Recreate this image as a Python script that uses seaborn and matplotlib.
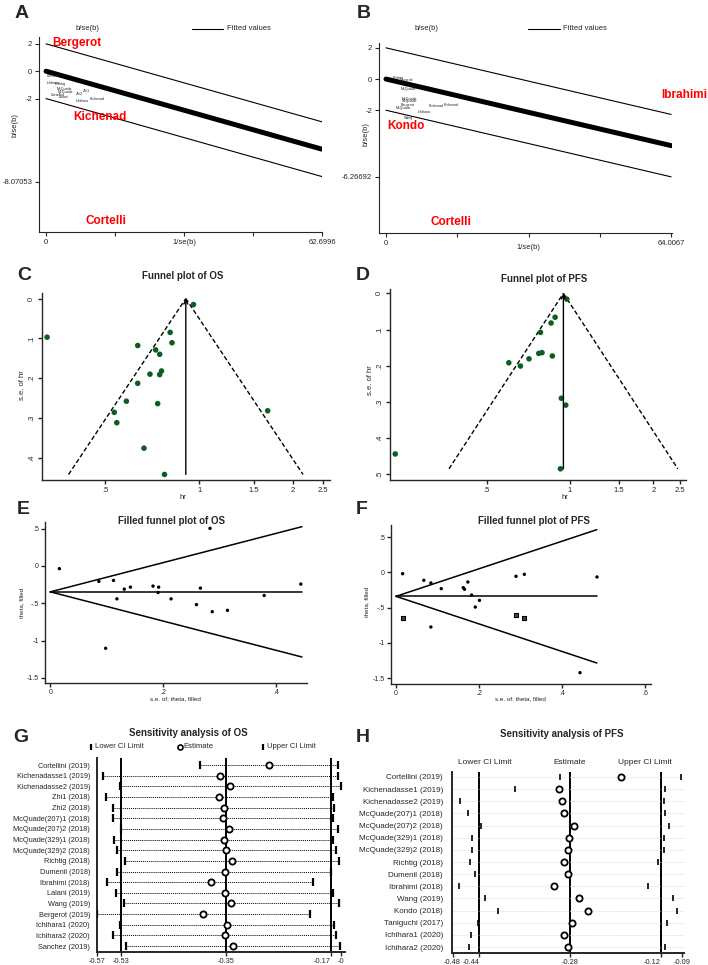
import numpy as np
import pandas as pd
import seaborn as sns
import matplotlib.pyplot as plt
from matplotlib.lines import Line2D
from matplotlib.ticker import NullLocator

W, H = 708, 965

# ---------------- A: Galbraith plot of OS ----------------
gal_os_xmax = 62.6996
gal_os_ylow = -8.07053
gal_os_slope = -0.0909
gal_os_names = ["Dumenil", "Ichihara", "Richtig", "McQuade", "McQuade", "Cortellini",
                "Lalani", "Zhi2", "Zhi1", "Ichihara", "Kichenad"]
gal_os_x = [0.2, 0.2, 2.0, 2.5, 2.7, 1.2, 2.9, 6.8, 8.4, 6.8, 10.0]
gal_os_y = [-0.36, -0.88, -0.95, -1.31, -1.55, -1.72, -1.88, -1.70, -1.45, -2.15, -2.05]
gal_os_red = ["Bergerot", "Kichenad", "Cortelli"]
gal_os_red_x = [1.4, 6.1, 8.9]
gal_os_red_y = [2.04, -3.36, -10.95]

# ---------------- B: Galbraith plot of PFS ----------------
gal_pfs_xmax = 64.0067
gal_pfs_ylow = -6.26692
gal_pfs_slope = -0.0667
gal_pfs_names = ["Richtig", "Dumenil", "McQuade", "McQuade", "McQuade", "Bergerot",
                 "McQuade", "Ichihara", "Kichenad", "Kichenad", "Wang"]
gal_pfs_x = [1.5, 3.0, 3.4, 3.6, 3.6, 3.4, 2.2, 7.0, 9.6, 13.0, 4.0]
gal_pfs_y = [0.07, -0.04, -0.66, -1.27, -1.43, -1.69, -1.87, -2.09, -1.74, -1.69, -2.5]
gal_pfs_red = ["Ibrahimi", "Kondo", "Cortelli"]
gal_pfs_red_x = [61.7, 0.2, 10.1]
gal_pfs_red_y = [-1.03, -3.0, -9.17]

# ---------------- C: funnel plot of OS ----------------
hr_os = [0.325, 0.959, 0.807, 0.818, 0.635, 0.725, 0.747, 0.757, 0.695,
         0.747, 0.635, 0.584, 0.736, 0.534, 0.544, 1.659, 0.665, 0.774]
se_os = [0.097, 0.015, 0.085, 0.111, 0.118, 0.129, 0.140, 0.182, 0.190,
         0.191, 0.213, 0.258, 0.264, 0.286, 0.312, 0.282, 0.376, 0.442]
hr_os_pooled = 0.906
se_os_max = 0.442

# ---------------- D: funnel plot of PFS ----------------
hr_pfs = [0.234, 0.973, 0.883, 0.854, 0.782, 0.771, 0.792, 0.863, 0.711,
          0.601, 0.662, 0.930, 0.965, 0.923]
se_pfs = [0.444, 0.016, 0.066, 0.082, 0.108, 0.166, 0.164, 0.173, 0.181,
          0.192, 0.201, 0.290, 0.309, 0.485]
hr_pfs_pooled = 0.946
se_pfs_max = 0.485

# ---------------- E: filled funnel plot of OS ----------------
fse_os = [0.016, 0.086, 0.112, 0.118, 0.131, 0.142, 0.182, 0.192, 0.191,
          0.214, 0.259, 0.266, 0.283, 0.287, 0.314, 0.379, 0.444, 0.098]
fth_os = [-0.036, -0.207, -0.194, -0.441, -0.311, -0.284, -0.270, -0.284, -0.356,
          -0.441, -0.518, -0.297, 0.505, -0.613, -0.595, -0.396, -0.243, -1.104]
fth_os_pooled = -0.347
fse_os_max = 0.446

# ---------------- F: filled funnel plot of PFS ----------------
fse_pfs = [0.016, 0.067, 0.084, 0.109, 0.162, 0.165, 0.173, 0.182, 0.201,
           0.191, 0.289, 0.309, 0.484, 0.084, 0.443]
fth_pfs = [-0.017, -0.111, -0.149, -0.230, -0.216, -0.239, -0.135, -0.320, -0.396,
           -0.491, -0.054, -0.026, -0.064, -0.775, -1.424]
fse_pfs_imp = [0.016, 0.289, 0.309]
fth_pfs_imp = [-0.652, -0.609, -0.642]
fth_pfs_pooled = -0.339
fse_pfs_max = 0.4835

# ---------------- G: sensitivity analysis of OS ----------------
sens_os_study = ["Cortellini (2019)", "Kichenadasse1 (2019)", "Kichenadasse2 (2019)",
                 "Zhi1 (2018)", "Zhi2 (2018)", "McQuade(207)1 (2018)", "McQuade(207)2 (2018)",
                 "McQuade(329)1 (2018)", "McQuade(329)2 (2018)", "Richtig (2018)",
                 "Dumenil (2018)", "Ibrahimi (2018)", "Lalani (2019)", "Wang (2019)",
                 "Bergerot (2019)", "Ichihara1 (2020)", "Ichihara2 (2020)", "Sanchez (2019)"]
sens_os_lo = [-0.394, -0.560, -0.532, -0.555, -0.544, -0.543, -0.530, -0.542, -0.536,
              -0.523, -0.536, -0.553, -0.538, -0.525, -0.571, -0.531, -0.543, -0.521]
sens_os_est = [-0.276, -0.360, -0.343, -0.361, -0.353, -0.354, -0.344, -0.353, -0.349,
               -0.339, -0.352, -0.376, -0.352, -0.341, -0.389, -0.348, -0.351, -0.337]
sens_os_hi = [-0.157, -0.157, -0.153, -0.166, -0.164, -0.167, -0.157, -0.166, -0.162,
              -0.156, -0.170, -0.200, -0.166, -0.156, -0.206, -0.164, -0.161, -0.154]
sens_os_ticks = [-0.57, -0.53, -0.35, -0.17, -0.1534]
sens_os_ticklabels = ["-0.57", "-0.53", "-0.35", "-0.17", "-0"]
sens_os_ref = [-0.53, -0.35, -0.17]

# ---------------- H: sensitivity analysis of PFS ----------------
sens_pfs_study = ["Cortellini (2019)", "Kichenadasse1 (2019)", "Kichenadasse2 (2019)",
                  "McQuade(207)1 (2018)", "McQuade(207)2 (2018)", "McQuade(329)1 (2018)",
                  "McQuade(329)2 (2018)", "Richtig (2018)", "Dumenil (2018)", "Ibrahimi (2018)",
                  "Wang (2019)", "Kondo (2018)", "Taniguchi (2017)", "Ichihara1 (2020)",
                  "Ichihara2 (2020)"]
sens_pfs_lo = [-0.297, -0.377, -0.474, -0.459, -0.437, -0.452, -0.453, -0.456, -0.448,
               -0.475, -0.429, -0.407, -0.442, -0.455, -0.458]
sens_pfs_est = [-0.190, -0.300, -0.294, -0.291, -0.272, -0.282, -0.284, -0.291, -0.284,
                -0.309, -0.264, -0.249, -0.276, -0.290, -0.284]
sens_pfs_hi = [-0.084, -0.112, -0.115, -0.112, -0.105, -0.114, -0.115, -0.125, -0.120,
               -0.143, -0.098, -0.092, -0.109, -0.120, -0.112]
sens_pfs_ticks = [-0.487, -0.44, -0.28, -0.12, -0.082]
sens_pfs_ticklabels = ["-0.48", "-0.44", "-0.28", "-0.12", "-0.09"]
sens_pfs_ref = [-0.44, -0.28, -0.12]

GREEN = "#0d5c20"

sns.set_style("ticks")
plt.rcParams['font.family'] = ['Liberation Sans', 'DejaVu Sans']


def px_axes(fig, l, t, r, b):
    return fig.add_axes([l / W, 1 - b / H, (r - l) / W, (b - t) / H])


def ftext(fig, x, y, s, **kw):
    kw.setdefault("ha", "center")
    kw.setdefault("va", "center")
    fig.text(x / W, 1 - y / H, s, **kw)


def basic_spines(ax, lw=0.8):
    sns.despine(ax=ax)
    for side in ("left", "bottom"):
        ax.spines[side].set_linewidth(lw)
    ax.tick_params(length=3, width=lw, labelsize=5.5, pad=2)


def galbraith(fig, ax, xmax, ylow, slope, names, nx, ny, red, rx, ry, xlim, ylim, mid_label):
    gx = np.array([0, xmax])
    for off, lw in ((2, 0.8), (0, 3.6), (-2, 0.8)):
        sns.lineplot(x=gx, y=slope * gx + off, color="black", lw=lw, ax=ax, legend=False)
    for n, x, y in zip(names, nx, ny):
        ax.text(x, y, n, fontsize=2.6, color="#222222", ha="left", va="center")
    for n, x, y in zip(red, rx, ry):
        ax.text(x, y, n, fontsize=8.5, color="red", weight="bold", ha="left", va="center",
                clip_on=False)
    ax.set_xlim(*xlim)
    ax.set_ylim(*ylim)
    ax.set_xticks(np.linspace(0, xmax, 5))
    ax.set_xticklabels(["0", "", mid_label, "", f"{xmax:g}"])
    ax.set_yticks([2, 0, -2, ylow])
    ax.set_yticklabels(["2", "0", "-2", f"{ylow:g}"])
    basic_spines(ax)


def funnel(ax, hr, se, pooled, semax, xlim, ylim, yticks):
    sns.scatterplot(x=hr, y=se, color=GREEN, s=16, edgecolor="none", ax=ax, zorder=3)
    lc = np.log(pooled)
    for sgn in (-1, 1):
        sns.lineplot(x=[pooled, np.exp(lc + sgn * 1.96 * semax)], y=[0, semax],
                     color="black", lw=1.0, ax=ax, legend=False,
                     linestyle=(0, (3.2, 1.8)))
    ax.annotate("", xy=(pooled, 0), xytext=(pooled, semax),
                arrowprops=dict(arrowstyle="->", lw=1.0, color="black",
                                shrinkA=0, shrinkB=0, mutation_scale=7))
    ax.set_xscale("log")
    ax.set_xlim(*xlim)
    ax.set_ylim(*ylim)
    ax.set_xticks([0.5, 1, 1.5, 2, 2.5])
    ax.set_xticklabels([".5", "1", "1.5", "2", "2.5"])
    ax.xaxis.set_minor_locator(NullLocator())
    ax.set_yticks(yticks)
    ax.set_yticklabels([("%g" % v).replace("0.", ".") for v in yticks],
                       rotation=90, va="center")
    ax.set_xlabel("")
    ax.set_ylabel("")
    basic_spines(ax, lw=1.0)


def filled(ax, se, th, pooled, semax, xlim, ylim, xticks):
    sns.scatterplot(x=se, y=th, color="black", s=6, edgecolor="none", ax=ax, zorder=3)
    gx = np.array([0, semax])
    for k in (1.96, 0, -1.96):
        sns.lineplot(x=gx, y=pooled + k * gx, color="black", lw=1.1, ax=ax, legend=False)
    ax.set_xlim(*xlim)
    ax.set_ylim(*ylim)
    ax.set_xticks(xticks)
    ax.set_xticklabels([("%g" % v).replace("0.", ".") for v in xticks])
    ax.set_yticks([0.5, 0, -0.5, -1, -1.5])
    ax.set_yticklabels([".5", "0", "-.5", "-1", "-1.5"])
    ax.set_xlabel("")
    ax.set_ylabel("")
    basic_spines(ax, lw=1.0)
    ax.tick_params(labelsize=5, pad=1.5)


def sensitivity(ax, study, lo, est, hi, ticks, ticklabels, ref, ylim, bar_s, bar_lw,
                dotted_full, label_size, pad, right_labels):
    y = np.arange(len(study))
    if dotted_full:
        ax.hlines(y, ticks[0], ticks[-1] + 0.005, colors="#d0d0d0",
                  linestyles=(0, (1, 1.5)), lw=0.6)
    else:
        ax.hlines(y, lo, hi, colors="black", linestyles=(0, (1, 1)), lw=0.7)
    for v in ref:
        ax.axvline(v, color="black", lw=1.4, zorder=1)
    ax.scatter(lo, y, marker="|", s=bar_s, lw=bar_lw, color="black", zorder=3)
    ax.scatter(hi, y, marker="|", s=bar_s, lw=bar_lw, color="black", zorder=3)
    ax.scatter(est, y, s=20, facecolors="white", edgecolors="black", lw=1.3, zorder=4)
    ax.set_ylim(*ylim)
    ax.set_yticks(y)
    ax.set_yticklabels(study)
    ax.set_xticks(ticks)
    labs = ax.set_xticklabels(ticklabels)
    for i in right_labels:
        labs[i].set_ha("right")
    sns.despine(ax=ax)
    for side in ("left", "bottom"):
        ax.spines[side].set_linewidth(1.4)
    ax.tick_params(axis="y", length=0, labelsize=label_size, pad=pad)
    ax.tick_params(axis="x", length=3, width=1.0, labelsize=5.3, pad=1.5)


fig = plt.figure(figsize=(W / 100, H / 100), dpi=100)

# A
axA = px_axes(fig, 39, 37, 322, 232)
galbraith(fig, axA, gal_os_xmax, gal_os_ylow, gal_os_slope, gal_os_names, gal_os_x, gal_os_y,
          gal_os_red, gal_os_red_x, gal_os_red_y, (-1.6, gal_os_xmax), (-11.75, 2.5), "1/se(b)")
ftext(fig, 15, 125, "b/se(b)", fontsize=5.5, rotation=90)
ftext(fig, 87, 29, "b/se(b)", fontsize=5.5)
fig.add_artist(Line2D([192 / W, 223 / W], [1 - 29 / H] * 2, color="black", lw=0.8))
ftext(fig, 227, 29, "Fitted values", fontsize=5.5, ha="left")

# B
axB = px_axes(fig, 379, 43, 672, 233)
galbraith(fig, axB, gal_pfs_xmax, gal_pfs_ylow, gal_pfs_slope, gal_pfs_names, gal_pfs_x,
          gal_pfs_y, gal_pfs_red, gal_pfs_red_x, gal_pfs_red_y, (-1.57, 64.2), (-9.87, 2.31), "")
ftext(fig, 366, 134, "b/se(b)", fontsize=5.5, rotation=90)
ftext(fig, 528, 248, "1/se(b)", fontsize=5.5)
ftext(fig, 426, 29, "b/se(b)", fontsize=5.5)
fig.add_artist(Line2D([528 / W, 560 / W], [1 - 29 / H] * 2, color="black", lw=0.8))
ftext(fig, 563, 29, "Fitted values", fontsize=5.5, ha="left")

# C
axC = px_axes(fig, 42, 293, 330, 480)
funnel(axC, hr_os, se_os, hr_os_pooled, se_os_max, (0.313, 2.63), (0.456, -0.014),
       [0, 0.1, 0.2, 0.3, 0.4])
ftext(fig, 183, 276, "Funnel plot of OS", fontsize=7, weight="bold")
ftext(fig, 22, 385, "s.e. of hr", fontsize=5.5, rotation=90)
ftext(fig, 183, 497, "hr", fontsize=5.5)

# D
axD = px_axes(fig, 390, 289, 686, 480)
funnel(axD, hr_pfs, se_pfs, hr_pfs_pooled, se_pfs_max, (0.224, 2.62), (0.516, -0.012),
       [0, 0.1, 0.2, 0.3, 0.4, 0.5])
ftext(fig, 544, 279, "Funnel plot of PFS", fontsize=7, weight="bold")
ftext(fig, 371, 380, "s.e. of hr", fontsize=5.5, rotation=90)
ftext(fig, 565, 497, "hr", fontsize=5.5)

# E
axE = px_axes(fig, 45, 522, 307, 683)
filled(axE, fse_os, fth_os, fth_os_pooled, fse_os_max, (-0.0095, 0.455), (-1.57, 0.59),
       [0, 0.2, 0.4])
ftext(fig, 172, 521, "Filled funnel plot of OS", fontsize=7, weight="bold")
ftext(fig, 22, 603, "theta, filled", fontsize=4.5, rotation=90)
ftext(fig, 175, 699, "s.e. of: theta, filled", fontsize=4.5)

# F
axF = px_axes(fig, 391, 525, 651, 684)
filled(axF, fse_pfs, fth_pfs, fth_pfs_pooled, fse_pfs_max, (-0.012, 0.614), (-1.585, 0.675),
       [0, 0.2, 0.4, 0.6])
axF.scatter(fse_pfs_imp, fth_pfs_imp, marker="s", s=12, facecolors="#444444",
            edgecolors="black", lw=0.8, zorder=4)
ftext(fig, 534, 521, "Filled funnel plot of PFS", fontsize=7, weight="bold")
ftext(fig, 367, 602, "theta, filled", fontsize=4.5, rotation=90)
ftext(fig, 520, 699, "s.e. of: theta, filled", fontsize=4.5)

# G
axG = px_axes(fig, 97, 758, 345, 952)
sensitivity(axG, sens_os_study, sens_os_lo, sens_os_est, sens_os_hi, sens_os_ticks,
            sens_os_ticklabels, sens_os_ref, (17.56, -0.66), 28, 1.6, False, 5.3, 5, [3])
axG.set_xlim(-0.5707, -0.1458)
ftext(fig, 188, 733, "Sensitivity analysis of OS", fontsize=7, weight="bold")
fig.add_artist(Line2D([91 / W], [1 - 747 / H], marker="|", ms=4.5, mew=1.6, color="black"))
ftext(fig, 95, 747, "Lower CI Limit", fontsize=5.5, ha="left")
fig.add_artist(Line2D([180 / W], [1 - 747 / H], marker="o", ms=3.6, mew=1.2,
                      mfc="white", mec="black"))
ftext(fig, 183, 747, "Estimate", fontsize=5.5, ha="left")
fig.add_artist(Line2D([263 / W], [1 - 747 / H], marker="|", ms=4.5, mew=1.6, color="black"))
ftext(fig, 267, 747, "Upper CI Limit", fontsize=5.5, ha="left")

# H
axH = px_axes(fig, 452, 772, 684, 953)
sensitivity(axH, sens_pfs_study, sens_pfs_lo, sens_pfs_est, sens_pfs_hi, sens_pfs_ticks,
            sens_pfs_ticklabels, sens_pfs_ref, (14.49, -0.41), 20, 1.2, True, 5.8, 6.5, [1, 3])
axH.set_xlim(-0.488, -0.0789)
ftext(fig, 562, 734, "Sensitivity analysis of PFS", fontsize=7, weight="bold")
ftext(fig, 485, 762, "Lower CI Limit", fontsize=6)
ftext(fig, 570, 762, "Estimate", fontsize=6)
ftext(fig, 645, 762, "Upper CI Limit", fontsize=6)

# panel letters
for lab, x, y in (("A", 15, 13), ("B", 357, 13), ("C", 17, 275), ("D", 356, 275),
                  ("E", 17, 509), ("F", 356, 509), ("G", 13, 737), ("H", 356, 737)):
    ftext(fig, x, y, lab, fontsize=14, weight="bold", ha="left")

fig.savefig("out.png", dpi=100)
